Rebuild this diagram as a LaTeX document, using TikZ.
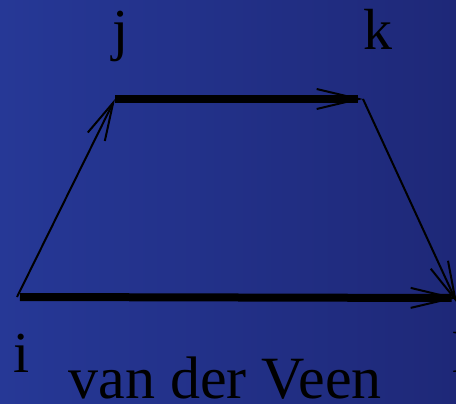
\documentclass[tikz,border=0pt]{standalone}
\usepackage{fontspec}
\setmainfont{Liberation Serif}
\usetikzlibrary{arrows.meta,positioning}

\definecolor{bgleft}{RGB}{38,56,150}
\definecolor{bgright}{RGB}{30,40,120}

\begin{document}
\begin{tikzpicture}[
  x=1pt, y=-1pt,
  lbl/.style={font=\fontsize{58}{60}\selectfont, inner sep=0pt, anchor=base},
  thin/.style={line width=2pt, -{Straight Barb[length=38pt, width=19pt, line width=2pt]}},
  thick/.style={line width=8pt, -{Straight Barb[length=42pt, width=20pt, line width=2pt]}},
]
\useasboundingbox (0,0) rectangle (456,404);
\shade[left color=bgleft, right color=bgright] (0,0) rectangle (456,404);

\coordinate (i) at (17,297);
\coordinate (j) at (115,99);
\coordinate (k) at (363,99);
\coordinate (l) at (457,298);

\node[lbl] (ilbl) at (22,372) {i};
\node[lbl] (jlbl) at (121,50) {j};
\node[lbl] (klbl) at (378,50) {k};
\node[lbl] (llbl) at (461,372) {l};
\node[lbl, font=\fontsize{60}{62}\selectfont] (name) at (225,398) {van der Veen};

\draw[thin] (i) -- (j);
\draw[thick] ([xshift=3pt]i) -- (l);
\draw[thick] (j) -- (k);
\draw[thin] (k) -- ([yshift=-5pt]l);
\end{tikzpicture}
\end{document}
